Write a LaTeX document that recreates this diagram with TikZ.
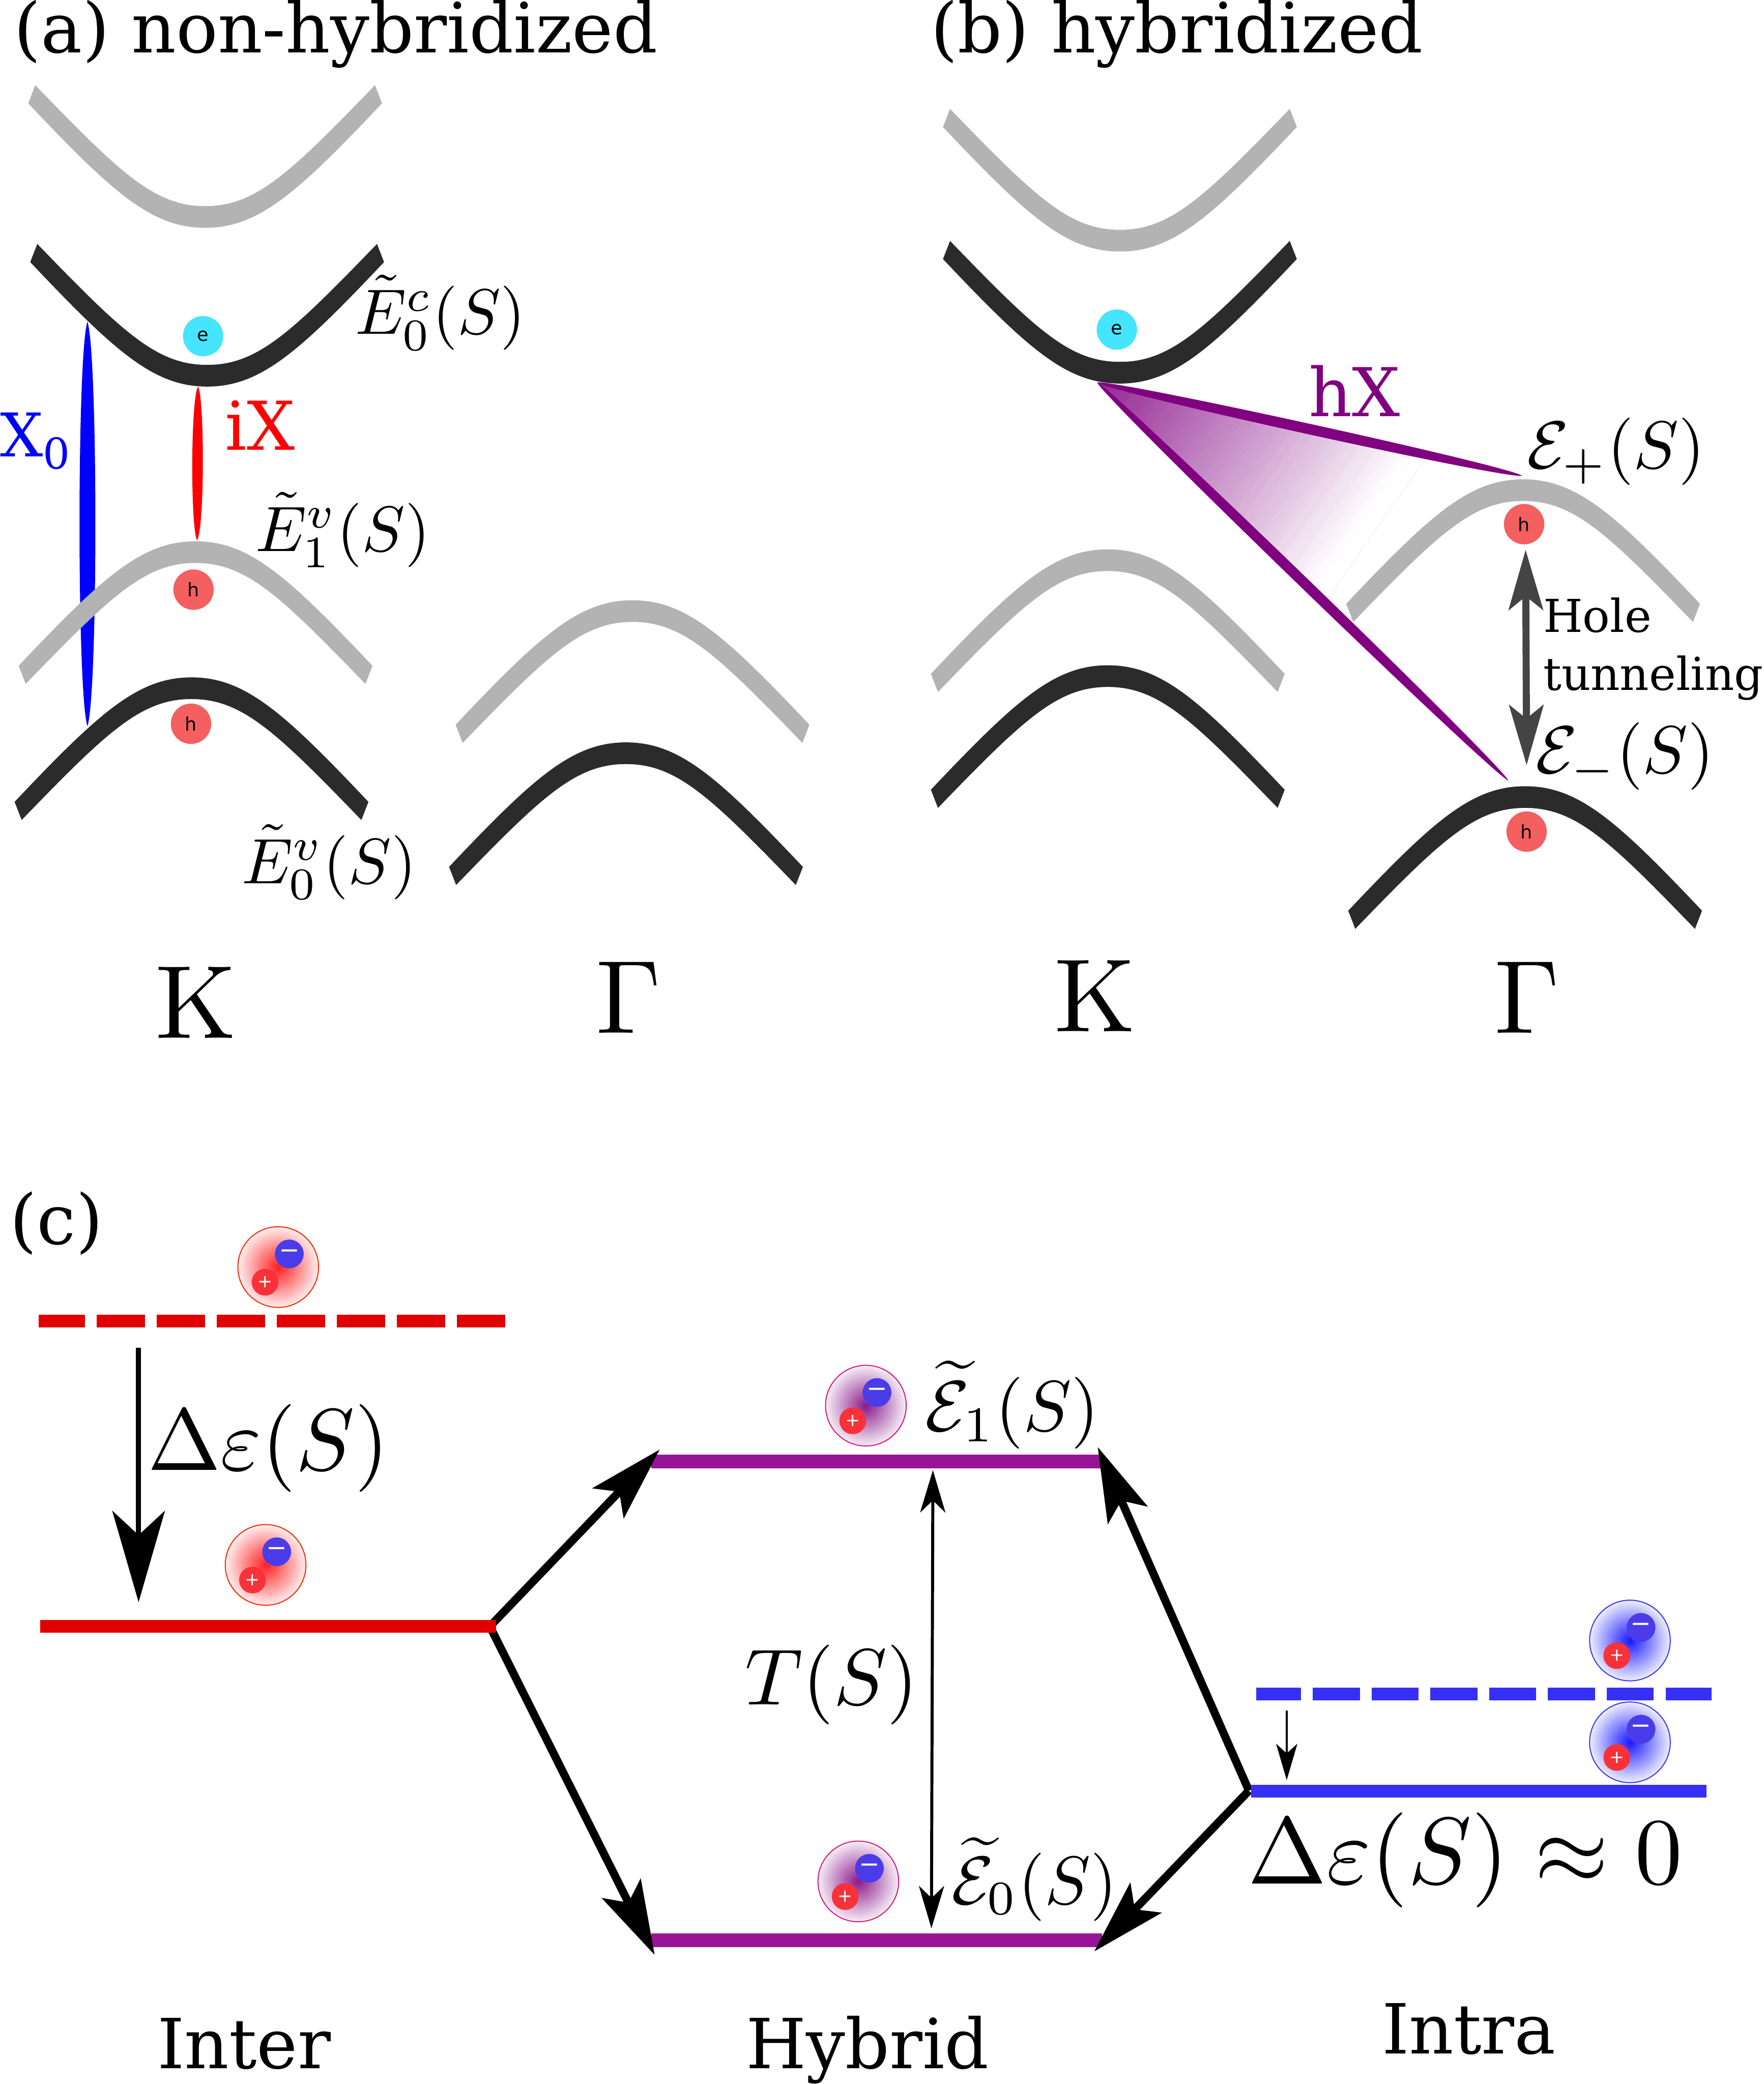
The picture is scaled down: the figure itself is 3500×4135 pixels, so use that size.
\documentclass[tikz,border=0pt]{standalone}
\usepackage{amsmath}
\usepackage[no-math]{fontspec}
\setmainfont{DejaVu Serif}
\newfontfamily\partfont{DejaVu Sans}
\usetikzlibrary{arrows.meta}
\definecolor{bandgrey}{HTML}{B3B3B3}
\definecolor{bandblack}{HTML}{2B2B2B}
\definecolor{hxpurple}{HTML}{800080}
\definecolor{levelpurple}{HTML}{981496}
\definecolor{levelred}{HTML}{E00000}
\definecolor{levelblue}{HTML}{3630F5}
\definecolor{ecyan}{HTML}{45E5FF}
\definecolor{hred}{HTML}{F45F5F}
\definecolor{tunnelgrey}{HTML}{444444}
\definecolor{excr}{HTML}{FF2020}
\definecolor{excp}{HTML}{8A1A8A}
\definecolor{excb}{HTML}{1A1AFF}
\definecolor{minusblue}{HTML}{4A3CE8}
\definecolor{plusred}{HTML}{F83238}
\pgfdeclareradialshading{excred}{\pgfpointorigin}{color(0bp)=(excr); color(27bp)=(white); color(50bp)=(white)}
\pgfdeclareradialshading{excpurple}{\pgfpointorigin}{color(0bp)=(excp); color(27bp)=(white); color(50bp)=(white)}
\pgfdeclareradialshading{excblue}{\pgfpointorigin}{color(0bp)=(excb); color(27bp)=(white); color(50bp)=(white)}
\newcommand\myband[4]{%
  \begin{scope}[shift={(#1,#2)},yscale=#3]
    \fill[#4] (-351,-225) .. controls (-181,-45) and (-105,22) .. (0,22)
      .. controls (105,22) and (181,-45) .. (351,-225) -- (337,-261)
      .. controls (167,-85) and (100,-21) .. (0,-21)
      .. controls (-100,-21) and (-167,-85) .. (-337,-261) -- cycle;
  \end{scope}}
\newcommand\myexciton[5]{% name, x, y, outline colour, shading
  \node[excbody,draw=#4,shading=#5] (#1) at (#2,#3) {};
  \node[excminus] (#1m) at ([xshift=.22cm,yshift=.26cm]#1.center) {−};
  \node[excplus] (#1p) at ([xshift=-.26cm,yshift=-.30cm]#1.center) {+};}
\newcommand\bigmath[2]{\scalebox{#1}{$#2$}}
\tikzset{
  x=.01cm,y=-.01cm,
  lbl/.style={anchor=base west,inner sep=0pt,outer sep=0pt},
  title/.style={lbl,font=\fontsize{39.1}{40}\selectfont},
  foot/.style={lbl,font=\fontsize{39}{40}\selectfont},
  particle/.style={circle,inner sep=0pt,minimum size=.8cm,font=\partfont\fontsize{10.5}{10.5}\selectfont},
  eparticle/.style={particle,fill=ecyan},
  hparticle/.style={particle,fill=hred},
  excbody/.style={circle,shade,inner sep=0pt,minimum size=1.6cm,line width=.02cm},
  excminus/.style={circle,inner sep=0pt,fill=minusblue,text=white,minimum size=.57cm,font=\partfont\fontsize{14}{14}\selectfont},
  excplus/.style={circle,inner sep=0pt,fill=plusred,text=white,minimum size=.53cm,font=\partfont\fontsize{10}{10}\selectfont},
  level/.style={line width=.27cm},
  redlevel/.style={line width=.25cm,levelred},
  bluelevel/.style={line width=.25cm,levelblue},
  redlevd/.style={redlevel,dash pattern=on .96cm off .23cm,dash phase=.04cm},
  bluelevd/.style={bluelevel,dash pattern=on .933cm off .233cm,dash phase=.04cm},
  bigarrow/.style={black,line width=.16cm,-{Stealth[length=1.47cm,width=.85cm,inset=.31cm]}},
  tarrow/.style={black,line width=.06cm,{Stealth[length=.84cm,width=.5cm,inset=.24cm]}-{Stealth[length=.84cm,width=.5cm,inset=.24cm]}},
  darrow/.style={black,line width=.1cm,-{Stealth[length=1.81cm,width=1.04cm,inset=.48cm]}},
  smallarrow/.style={black,line width=.04cm,-{Stealth[length=.72cm,width=.42cm,inset=.19cm]}},
  tunnelarrow/.style={tunnelgrey,line width=.14cm,{Stealth[length=1.19cm,width=.68cm,inset=.27cm]}-{Stealth[length=1.19cm,width=.68cm,inset=.27cm]}},
}
\begin{document}
\begin{tikzpicture}
\useasboundingbox (0,0) rectangle (3500,4135);
\fill[white] (0,0) rectangle (3500,4135);

% ---- transitions panel (a)
\fill[blue] (173.5,638) .. controls (152.5,702) and (152.5,1377) .. (173.5,1441)
   .. controls (194.5,1377) and (194.5,702) .. (173.5,638) -- cycle;
\fill[red] (393,767) .. controls (378,791) and (378,1048) .. (391,1072)
   .. controls (406,1048) and (406,791) .. (393,767) -- cycle;

% ---- bands panel (a)
\myband{407}{430}{1}{bandgrey}
\myband{411}{745}{1}{bandblack}
\myband{388}{1096}{-1}{bandgrey}
\myband{380}{1366}{-1}{bandblack}
\myband{1255}{1213}{-1}{bandgrey}
\myband{1242}{1495}{-1}{bandblack}

% ---- hX wedge
\coordinate (hxa) at (2177,759);
\coordinate (hxb) at (3020,944);
\coordinate (hxc) at (2993,1549);
\begin{scope}
  \clip (hxa) -- (hxb) -- (hxc) -- cycle;
  \begin{scope}[shift={(2177,759)},rotate=-35]
    \foreach \i in {0,...,59}{
      \pgfmathtruncatemacro\p{85-\i*85/59}
      \fill[hxpurple!\p!white] ({10*\i},-1200) rectangle (620,1200);
    }
  \end{scope}
\end{scope}

% ---- bands panel (b)
\myband{2222}{477}{1}{bandgrey}
\myband{2222}{739}{1}{bandblack}
\myband{2198}{1112}{-1}{bandgrey}
\myband{2198}{1342}{-1}{bandblack}
\myband{3022}{973}{-1}{bandgrey}
\myband{3026}{1582}{-1}{bandblack}

\fill[hxpurple] (hxa) .. controls (2205,751) and (2998,925) .. (hxb)
   .. controls (2992,952) and (2199,778) .. (hxa) -- cycle;
\fill[hxpurple] (hxa) .. controls (2211,773) and (2978,1515) .. (hxc)
   .. controls (2959,1535) and (2192,793) .. (hxa) -- cycle;

% ---- carriers
\node[eparticle] (ea) at (403,667) {e};
\node[hparticle] (ha1) at (384,1170) {h};
\node[hparticle] (ha0) at (379,1436) {h};
\node[eparticle] (eb) at (2216,654) {e};
\node[hparticle] (hb1) at (3024,1040) {h};
\node[hparticle] (hb0) at (3029,1650) {h};

% ---- tunnelling arrow
\coordinate (tuna) at (3027,1091);
\coordinate (tunb) at (3029,1518);
\draw[tunnelarrow] (tuna) -- (tunb);

% ---- labels (a),(b)
\node[title] (ta) at (28,104) {(a) non-hybridized};
\node[title] (tb) at (1847,104) {(b) hybridized};
\node[lbl,text=blue,font=\fontsize{34}{34}\selectfont] (xo) at (0,906) {X\raisebox{-7pt}{\fontsize{24}{24}\selectfont 0}};
\node[lbl,text=red,font=\fontsize{38}{38}\selectfont] (ix) at (447,893) {iX};
\node[lbl,text=hxpurple,font=\fontsize{38}{38}\selectfont] (hx) at (2597,826) {hX};
\node[lbl] (e0c) at (705,663) {\bigmath{3.62}{\tilde{E}_0^c(S)}};
\node[lbl] (e1v) at (507,1094) {\bigmath{3.62}{\tilde{E}_1^v(S)}};
\node[lbl] (e0v) at (480,1753) {\bigmath{3.62}{\tilde{E}_0^v(S)}};
\node[lbl] (ep) at (3030,929) {\bigmath{3.8}{\mathcal{E}_+(S)}};
\node[lbl] (em) at (3047,1534) {\bigmath{3.8}{\mathcal{E}_-(S)}};
\node[lbl,font=\fontsize{25.6}{26}\selectfont] (hole) at (3062,1254) {Hole};
\node[lbl,font=\fontsize{25.6}{26}\selectfont] (tun) at (3062,1369) {tunneling};
\node[lbl] (ka) at (308,2060) {\bigmath{5.88}{\mathrm{K}}};
\node[lbl] (ga) at (1183,2050) {\bigmath{5.88}{\Gamma}};
\node[lbl] (kb) at (2092,2047) {\bigmath{5.88}{\mathrm{K}}};
\node[lbl] (gb) at (2965,2050) {\bigmath{5.88}{\Gamma}};

% ---- panel (c)
\node[title] (tc) at (20,2469) {(c)};

\coordinate (ptl) at (1292,2900);
\coordinate (ptr) at (2190,2900);
\coordinate (pbl) at (1292,3850);
\coordinate (pbr) at (2187,3850);
\draw[level,levelpurple] (ptl) -- (ptr);
\draw[level,levelpurple] (pbl) -- (pbr);

\coordinate (rsl) at (80,3227);
\coordinate (rsr) at (984,3227);
\coordinate (rjoin) at (972,3227);
\coordinate (bjoin) at (2478,3553);
\coordinate (art) at (1309,2876);
\coordinate (arb) at (1299,3879);
\coordinate (abt) at (2178,2871);
\coordinate (abb) at (2171,3872);
\draw[bigarrow] (rjoin) -- (art);
\draw[bigarrow] (rjoin) -- (arb);
\draw[bigarrow] (bjoin) -- (abt);
\draw[bigarrow] (bjoin) -- (abb);

\coordinate (rdl) at (77,2621);
\coordinate (rdr) at (1002,2621);
\draw[redlevd] (rdl) -- (rdr);
\draw[redlevel] (rsl) -- (rsr);

\coordinate (bdl) at (2492,3361);
\coordinate (bdr) at (3396,3361);
\coordinate (bsl) at (2482,3554);
\coordinate (bsr) at (3386,3554);
\draw[bluelevd] (bdl) -- (bdr);
\draw[bluelevel] (bsl) -- (bsr);

\coordinate (da) at (275,2674);
\coordinate (db) at (275,3179);
\draw[darrow] (da) -- (db);
\coordinate (sa) at (2553,3394);
\coordinate (sb) at (2553,3532);
\draw[smallarrow] (sa) -- (sb);
\coordinate (tua) at (1851,2917);
\coordinate (tub) at (1848,3826);
\draw[tarrow] (tua) -- (tub);

\myexciton{xr1}{552}{2514}{red!70!orange}{excred}
\myexciton{xr2}{527}{3105}{red!70!orange}{excred}
\myexciton{xp1}{1718}{2789}{magenta!70!purple}{excpurple}
\myexciton{xp2}{1703}{3733}{magenta!70!purple}{excpurple}
\myexciton{xb1}{3234}{3255}{blue!80!white}{excblue}
\myexciton{xb2}{3234}{3457}{blue!80!white}{excblue}

\node[lbl] (de) at (293,2917) {\bigmath{4.95}{\Delta\varepsilon(S)}};
\node[lbl] (ts) at (1478,3382) {\bigmath{4.5}{T(S)}};
\node[lbl] (e1) at (1836,2839) {\bigmath{4.05}{\widetilde{\mathcal{E}}_1(S)}};
\node[lbl] (e0) at (1888,3778) {\bigmath{3.85}{\widetilde{\mathcal{E}}_0(S)}};
\node[lbl] (dz) at (2476,3738) {\bigmath{5.35}{\Delta\varepsilon(S)\approx 0}};
\node[foot] (inter) at (312,4104) {Inter};
\node[foot] (hybrid) at (1480,4104) {Hybrid};
\node[foot] (intra) at (2742,4075) {Intra};
\end{tikzpicture}
\end{document}
